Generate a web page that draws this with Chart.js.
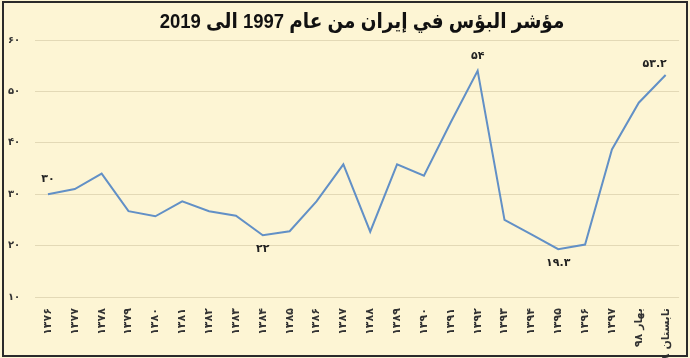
<!DOCTYPE html>
<html>
<head>
<meta charset="utf-8">
<script src="https://cdn.jsdelivr.net/npm/chart.js@4/dist/chart.umd.min.js"></script>
<style>
html,body{margin:0;padding:0;background:#FDF5D4;}
#wrap{width:690px;height:358px;position:relative;}
canvas{display:block;}
</style>
</head>
<body>
<div id="wrap"><canvas id="c" width="690" height="358"></canvas></div>
<script>
// ---- data ----
const categories = ['۱۳۷۶','۱۳۷۷','۱۳۷۸','۱۳۷۹','۱۳۸۰','۱۳۸۱','۱۳۸۲','۱۳۸۳','۱۳۸۴','۱۳۸۵','۱۳۸۶','۱۳۸۷','۱۳۸۸','۱۳۸۹','۱۳۹۰','۱۳۹۱','۱۳۹۲','۱۳۹۳','۱۳۹۴','۱۳۹۵','۱۳۹۶','۱۳۹۷','بهار ۹۸','تابستان ۹۸'];
const miseryIndex = [30, 31, 34, 26.7, 25.7, 28.6, 26.7, 25.8, 22, 22.8, 28.6, 35.8, 22.7, 35.8, 33.6, 44, 54, 25, 22.2, 19.3, 20.2, 38.7, 47.8, 53.2];
const yTicks = [10, 20, 30, 40, 50, 60];
const labelIndices = [0, 8, 16, 19, 23];
const labelTexts = ['۳۰', '۲۲', '۵۴', '۱۹.۳', '۵۳.۲'];
const titleText = 'مؤشر البؤس في إيران من عام 1997 الى 2019';

const faDigits = ['۰','۱','۲','۳','۴','۵','۶','۷','۸','۹'];
const toFa = n => String(n).replace(/[0-9]/g, d => faDigits[+d]);

const frame = {
  id: 'frame',
  beforeDraw(chart) {
    const ctx = chart.ctx;
    ctx.save();
    ctx.fillStyle = '#FDF5D4';
    ctx.fillRect(0, 0, chart.width, chart.height);
    ctx.restore();
  },
  afterDraw(chart) {
    const ctx = chart.ctx;
    ctx.save();
    // border
    ctx.strokeStyle = '#2a2a2a';
    ctx.lineWidth = 2;
    ctx.strokeRect(3, 2, chart.width - 6, chart.height - 4);
    // title (slightly condensed)
    ctx.save();
    ctx.translate(362, 22);
    ctx.scale(0.88, 1);
    ctx.fillStyle = '#111';
    ctx.font = 'bold 21px "Liberation Sans", "DejaVu Sans", sans-serif';
    ctx.textAlign = 'center';
    ctx.textBaseline = 'middle';
    ctx.direction = 'rtl';
    ctx.fillText(titleText, 0, 0);
    ctx.restore();
    // value labels
    const xs = chart.scales.x, ys = chart.scales.y;
    ctx.font = 'bold 11px "DejaVu Sans", sans-serif';
    ctx.fillStyle = '#222';
    ctx.textAlign = 'center';
    ctx.textBaseline = 'middle';
    labelIndices.forEach((idx, k) => {
      const v = miseryIndex[idx];
      const px = xs.getPixelForValue(idx);
      const py = ys.getPixelForValue(v);
      const prev = miseryIndex[idx - 1], next = miseryIndex[idx + 1];
      const isMin = prev !== undefined && next !== undefined && v < prev && v < next;
      let dx = 0, dy = isMin ? 14 : -15;
      if (idx === miseryIndex.length - 1) { dx = -11; dy = -11; }
      ctx.fillText(labelTexts[k], px + dx, py + dy);
    });
    ctx.restore();
  }
};

new Chart(document.getElementById('c'), {
  type: 'line',
  data: {
    labels: categories,
    datasets: [{
      data: miseryIndex,
      borderColor: '#6290C6',
      borderWidth: 2,
      pointRadius: 0,
      tension: 0,
      fill: false
    }]
  },
  options: {
    responsive: false,
    animation: false,
    devicePixelRatio: 1,
    layout: { padding: { top: 40, left: 8, right: 7.5, bottom: 0 } },
    plugins: { legend: { display: false }, title: { display: false }, tooltip: { enabled: false } },
    scales: {
      x: {
        offset: true,
        grid: { display: false, drawTicks: false },
        border: { display: false },
        ticks: {
          autoSkip: false,
          minRotation: 90,
          maxRotation: 90,
          padding: 11,
          color: '#333',
          font: { family: '"DejaVu Sans", sans-serif', size: 11, weight: 'bold' }
        },
        afterFit(scale) { scale.height = 61; }
      },
      y: {
        min: 10,
        max: 60,
        afterBuildTicks(scale) { scale.ticks = yTicks.map(v => ({ value: v })); },
        grid: { color: 'rgba(215,205,170,0.7)', lineWidth: 1, drawTicks: false },
        border: { display: false },
        ticks: {
          crossAlign: 'far',
          padding: 0,
          color: '#333',
          font: { family: '"DejaVu Sans", sans-serif', size: 10, weight: 'bold' },
          callback: v => toFa(v)
        },
        afterFit(scale) { scale.width = 26.5; }
      }
    }
  },
  plugins: [frame]
});
</script>
</body>
</html>
